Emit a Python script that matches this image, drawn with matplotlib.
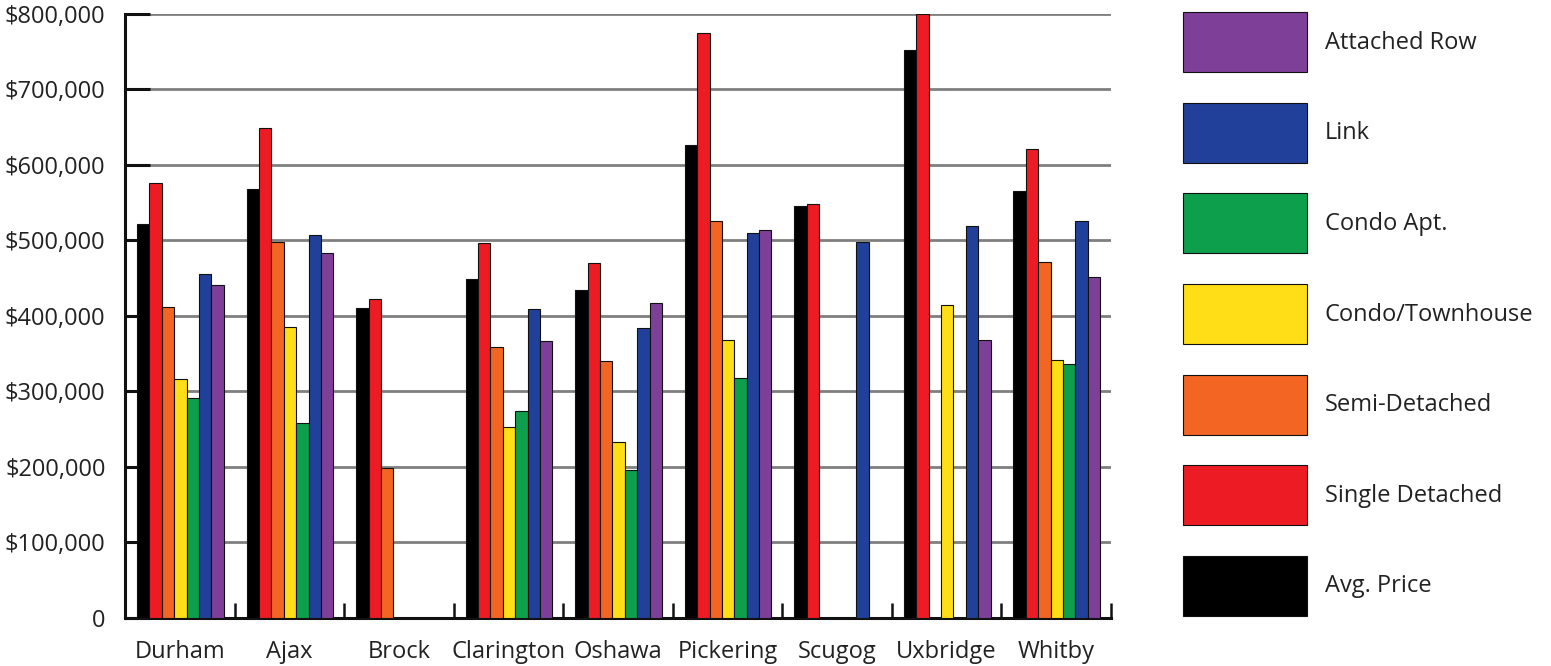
import numpy as np
import matplotlib.pyplot as plt
from matplotlib.ticker import FuncFormatter, FixedLocator

# Regions and prices (nan = no sales in that category)
regions = ['Durham', 'Ajax', 'Brock', 'Clarington', 'Oshawa', 'Pickering', 'Scugog', 'Uxbridge', 'Whitby']
series = ['Avg. Price', 'Single Detached', 'Semi-Detached', 'Condo/Townhouse', 'Condo Apt.', 'Link', 'Attached Row']
colors = ['#000000', '#ED1C24', '#F26522', '#FFDD17', '#0E9F4D', '#21409A', '#7E3F98']

nan = np.nan
avg_price = [522000, 568000, 410000, 449000, 434000, 626000, 546000, 752000, 566000]
single_detached = [576000, 649000, 422000, 497000, 470000, 775000, 548000, 800000, 621000]
semi_detached = [412000, 498000, 199000, 359000, 340000, 526000, nan, nan, 471000]
condo_townhouse = [317000, 385000, nan, 253000, 233000, 368000, nan, 415000, 342000]
condo_apt = [291000, 258000, nan, 274000, 196000, 318000, nan, nan, 337000]
link = [456000, 507000, nan, 409000, 384000, 510000, 498000, 519000, 526000]
attached_row = [441000, 483000, nan, 367000, 417000, 514000, nan, 368000, 451000]

values = [avg_price, single_detached, semi_detached, condo_townhouse, condo_apt, link, attached_row]

plt.rcParams['font.family'] = ['Open Sans', 'DejaVu Sans']

fig = plt.figure(figsize=(15.51, 6.66), dpi=100)
ax = fig.add_axes([0.0806, 0.0721, 0.6357, 0.907])

x = np.arange(len(regions))
w = 0.113
off = 0.11
handles = []
for k, (name, vals, c) in enumerate(zip(series, values, colors)):
    b = ax.bar(x + off + k * w, vals, width=w, align='edge', color=c,
               edgecolor='#111111', linewidth=0.8, label=name, zorder=3)
    handles.append(b)

ax.set_xlim(0, 9)
ax.set_ylim(0, 800000)

# gridlines
ax.yaxis.set_major_locator(FixedLocator(np.arange(0, 800001, 100000)))
ax.grid(axis='y', color='#7f7f7f', linewidth=2, zorder=0)
ax.set_axisbelow(True)

def money(v, pos):
    if v == 0:
        return '0'
    return '${:,.0f}'.format(v)
ax.yaxis.set_major_formatter(FuncFormatter(money))
ax.tick_params(axis='y', direction='in', length=18, width=2.2, color='#111111',
               labelsize=17, pad=14, labelcolor='#222222')

# x: ticks at region boundaries, labels at centres
ax.xaxis.set_major_locator(FixedLocator(np.arange(1, 10)))
ax.xaxis.set_minor_locator(FixedLocator(x + 0.5))
ax.xaxis.set_major_formatter(FuncFormatter(lambda v, p: ''))
ax.set_xticklabels(regions, minor=True)
ax.tick_params(axis='x', which='major', direction='in', length=11, width=1.8, color='#111111')
ax.tick_params(axis='x', which='minor', length=0, labelsize=17, pad=16, labelcolor='#222222')

for s in ['top', 'right']:
    ax.spines[s].set_visible(False)
ax.spines['left'].set_linewidth(2.2)
ax.spines['bottom'].set_linewidth(2.2)
ax.spines['left'].set_color('#111111')
ax.spines['bottom'].set_color('#111111')

fig.legend(handles[::-1], series[::-1], loc='upper left', bbox_to_anchor=(0.7627, 0.982),
           frameon=False, fontsize=17, handlelength=5.25, handleheight=3.53,
           labelspacing=1.3, handletextpad=0.75, borderaxespad=0, borderpad=0,
           labelcolor='#222222')

fig.savefig('out.png', dpi=100)
